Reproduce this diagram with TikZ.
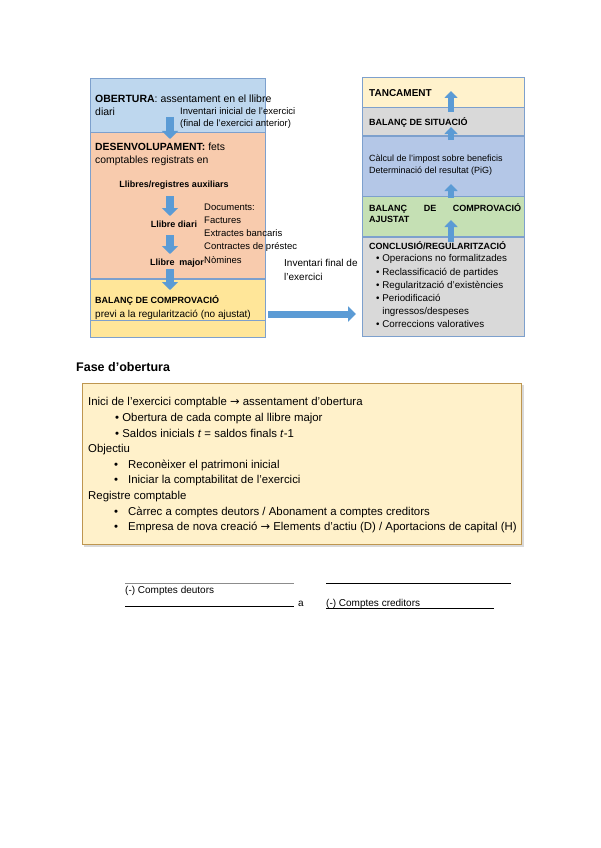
\documentclass[tikz,border=0pt]{standalone}
\usepackage{fontspec}
\setmainfont{Liberation Sans}
\newfontfamily\arrowfont{DejaVu Sans}
\usetikzlibrary{arrows.meta, positioning}

\definecolor{obertblue}{RGB}{190,215,238}
\definecolor{desenvsalmon}{RGB}{248,203,173}
\definecolor{balyellow}{RGB}{255,230,153}
\definecolor{tancyellow}{RGB}{255,242,204}
\definecolor{panelgray}{RGB}{217,217,217}
\definecolor{calcblue}{RGB}{180,199,231}
\definecolor{ajustgreen}{RGB}{197,224,180}
\definecolor{boxline}{RGB}{125,160,205}
\definecolor{arrowblue}{RGB}{91,155,213}
\definecolor{fasefill}{RGB}{255,241,202}
\definecolor{faseline}{RGB}{190,150,80}

\newcommand{\toarrow}{{\arrowfont →}}

\begin{document}
\begin{tikzpicture}[x=1pt, y=-1pt, every node/.style={inner sep=0pt, font=\fontsize{10}{13}\selectfont},
  lpanel/.style={draw=boxline, minimum width=175pt, anchor=north west},
  rpanel/.style={draw=boxline, minimum width=162pt, anchor=north west},
  boldlbl/.style={font=\bfseries\fontsize{9}{11}\selectfont},
  downarrow/.style={arrowblue, line width=8pt, -{Triangle[width=16pt, length=8pt]}},
  uparrow/.style={arrowblue, line width=6pt, -{Triangle[width=13pt, length=7pt]}}]
  \useasboundingbox (0,0) rectangle (600,848);

  % Left panel
  \node[lpanel, fill=obertblue, minimum height=54pt] (obert) at (90,78) {};
  \node[lpanel, fill=desenvsalmon, minimum height=146pt, below=0pt of obert] (desenv) {};
  \node[lpanel, fill=balyellow, minimum height=58pt, below=0pt of desenv] (balanc) {};
  \draw[boxline] (90,320) -- (265,320);

  \node[anchor=north west, align=left, font=\fontsize{10.5}{13}\selectfont] (obertxt) at (95,95) {\textbf{OBERTURA}: assentament en el llibre\\diari};
  \node[anchor=north west, align=left, font=\fontsize{9.5}{11.5}\selectfont] (invini) at (180,107.5) {Inventari inicial de l'exercici\\(final de l'exercici anterior)};
  \node[anchor=north west, align=left, font=\fontsize{10.4}{13}\selectfont] (desentxt) at (95,143) {\textbf{DESENVOLUPAMENT:} fets\\comptables registrats en};
  \node[boldlbl] (aux) at (174,185) {Llibres/registres auxiliars};
  \node[boldlbl] (diari) at (174,224) {Llibre diari};
  \node[boldlbl] (major) at (177,263) {Llibre\hspace{2pt} major};
  \node[anchor=north west, align=left, font=\fontsize{9.5}{13.2}\selectfont] (docs) at (204,203.5) {Documents:\\Factures\\Extractes bancaris\\Contractes de préstec\\Nòmines};
  \node[boldlbl, anchor=west] (baltxt) at (95,300) {BALANÇ DE COMPROVACIÓ};
  \node[anchor=west] (previ) at (95,315) {previ a la regularització (no ajustat)};
  \node[anchor=north west, align=left, font=\fontsize{10}{14}\selectfont] (invfin) at (284,259.5) {Inventari final de\\l'exercici};

  \coordinate (d1) at (170,117);
  \coordinate (d2) at (170,139);
  \coordinate (d3) at (170,196);
  \coordinate (d4) at (170,216);
  \coordinate (d5) at (170,235);
  \coordinate (d6) at (170,254);
  \coordinate (d7) at (170,269);
  \coordinate (d8) at (170,290);
  \draw[downarrow] (d1) -- (d2);
  \draw[downarrow] (d3) -- (d4);
  \draw[downarrow] (d5) -- (d6);
  \draw[downarrow] (d7) -- (d8);

  % Right panel
  \node[rpanel, fill=tancyellow, minimum height=30pt] (tanc) at (362,77) {};
  \node[rpanel, fill=panelgray, minimum height=28pt, below=0pt of tanc] (situ) {};
  \node[rpanel, fill=calcblue, minimum height=60pt, below=0pt of situ] (calc) {};
  \node[rpanel, fill=ajustgreen, minimum height=40pt, below=0pt of calc] (ajust) {};
  \node[rpanel, fill=panelgray, minimum height=99pt, below=0pt of ajust] (concl) {};

  \node[boldlbl, anchor=west, font=\bfseries\fontsize{10}{12}\selectfont] (tanctxt) at (369,93) {TANCAMENT};
  \node[boldlbl, anchor=west] (situtxt) at (369,122) {BALANÇ DE SITUACIÓ};
  \node[anchor=north west, align=left, font=\fontsize{9}{12}\selectfont] (calctxt) at (369,154.5) {Càlcul de l'impost sobre beneficis\\Determinació del resultat (PiG)};
  \node[boldlbl, anchor=north west, align=left] (ajusttxt) at (369,203.5) {\makebox[152pt][s]{BALANÇ\hfill DE\hfill COMPROVACIÓ}\\AJUSTAT};
  \node[boldlbl, anchor=west] (concltxt) at (369,246) {CONCLUSIÓ/REGULARITZACIÓ};
  \node[anchor=north west, align=left, font=\fontsize{9.8}{13.2}\selectfont] (bullets) at (376,254.5) {• Operacions no formalitzades\\• Reclassificació de partides\\• Regularització d'existències\\• Periodificació\\\hphantom{• }ingressos/despeses\\• Correccions valoratives};

  \coordinate (u1) at (451,112);
  \coordinate (u2) at (451,91);
  \coordinate (u3) at (451,140);
  \coordinate (u4) at (451,127);
  \coordinate (u5) at (451,198);
  \coordinate (u6) at (451,184);
  \coordinate (u7) at (451,242);
  \coordinate (u8) at (451,220);
  \draw[uparrow] (u1) -- (u2);
  \draw[uparrow] (u3) -- (u4);
  \draw[uparrow] (u5) -- (u6);
  \draw[uparrow] (u7) -- (u8);

  % Transfer arrow
  \coordinate (outA) at (268,314);
  \coordinate (inA) at (356,314);
  \draw[arrowblue, line width=7pt, -{Triangle[width=15pt, length=8pt]}] (outA) -- (inA);

  % Fase d'obertura
  \node[anchor=west, font=\bfseries\fontsize{12.5}{15}\selectfont] (fase) at (76,367) {Fase d'obertura};
  \fill[black!15] (84,385) rectangle (523.5,546.5);
  \node[draw=faseline, fill=fasefill, minimum width=439pt, minimum height=161pt, anchor=north west] (fasebox) at (82,383) {};
  \node[anchor=north west, align=left, font=\fontsize{11.4}{15.6}\selectfont] (fasetxt) at (88,397.5) {Inici de l'exercici comptable \toarrow{} assentament d'obertura\\
    \hspace*{27pt}• Obertura de cada compte al llibre major\\
    \hspace*{27pt}• Saldos inicials \textit{t} = saldos finals \textit{t}-1\\
    Objectiu\\
    \hspace*{26pt}•\hspace*{10pt}Reconèixer el patrimoni inicial\\
    \hspace*{26pt}•\hspace*{10pt}Iniciar la comptabilitat de l'exercici\\
    Registre comptable\\
    \hspace*{26pt}•\hspace*{10pt}Càrrec a comptes deutors / Abonament a comptes creditors\\
    \hspace*{26pt}•\hspace*{10pt}Empresa de nova creació \toarrow{} Elements d'actiu (D) / Aportacions de capital (H)};

  % Journal entry
  \node[anchor=west] (deut) at (125,591) {(-) Comptes deutors};
  \node[anchor=west] (aword) at (298,604) {a};
  \node[anchor=west] (cred) at (326,604) {(-) Comptes creditors};
  \draw[black!45] (125,583) -- (294,583);
  \draw (326,583) -- (511,583);
  \draw (125,606) -- (294,606);
  \draw (326,608) -- (494,608);
\end{tikzpicture}
\end{document}
